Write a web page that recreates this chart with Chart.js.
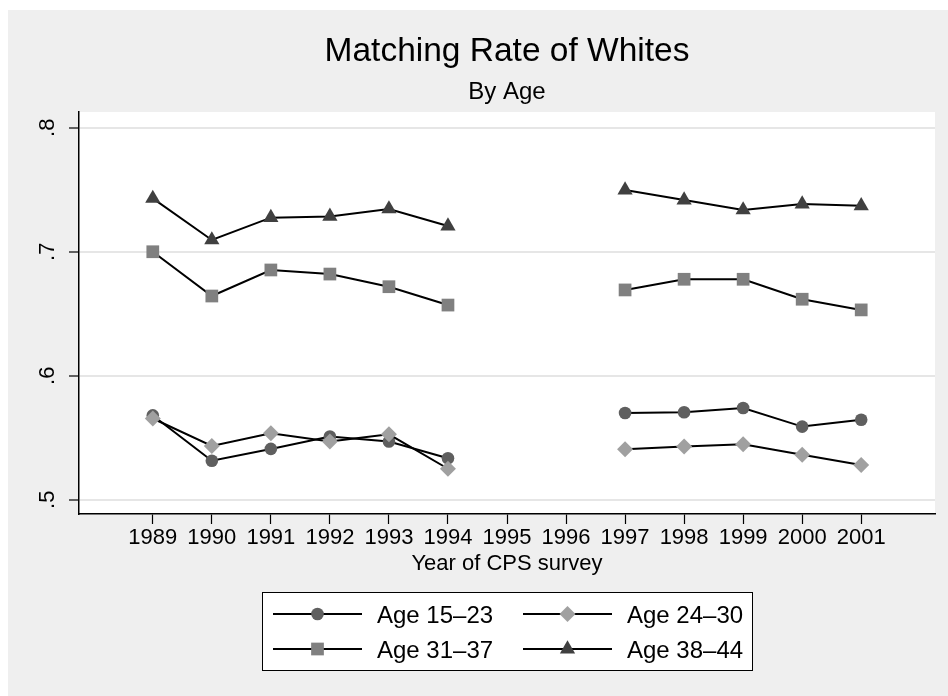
<!DOCTYPE html>
<html>
<head>
<meta charset="utf-8">
<title>Matching Rate of Whites</title>
<script src="https://cdn.jsdelivr.net/npm/chart.js@4/dist/chart.umd.min.js"></script>
<style>
  html, body { margin: 0; padding: 0; background: #fff; }
  #wrap { width: 948px; height: 696px; }
</style>
</head>
<body>
<div id="wrap"><canvas id="chart" width="948" height="696"></canvas></div>
<script>
// ===== Data =====
const years = [1989, 1990, 1991, 1992, 1993, 1994, 1995, 1996, 1997, 1998, 1999, 2000, 2001];
const yTicks = [0.5, 0.6, 0.7, 0.8];
const seriesLabels = ['Age 15–23', 'Age 24–30', 'Age 31–37', 'Age 38–44'];

const age1523 = [0.568, 0.5315, 0.541, 0.551, 0.547, 0.5335, null, null, 0.570, 0.5705, 0.574, 0.559, 0.5645];
const age2430 = [0.5655, 0.5434, 0.5537, 0.547, 0.5528, 0.525, null, null, 0.5408, 0.543, 0.5448, 0.5362, 0.528];
const age3137 = [0.700, 0.6643, 0.6853, 0.682, 0.6718, 0.657, null, null, 0.6692, 0.6778, 0.6778, 0.6617, 0.6531];
const age3844 = [0.743, 0.7095, 0.7275, 0.7285, 0.7345, 0.7207, null, null, 0.7498, 0.7417, 0.7337, 0.7385, 0.7371];

// marker looks per series (Stata mono-ish)
const markerStyles = ['circle', 'rectRot', 'rect', 'triangle'];
const markerColors = ['#5f5f5f', '#a0a0a0', '#808080', '#404040'];
const markerSizes = [6.3, 8, 9, 8.8];

const FONT = '"Liberation Sans", Arial, Helvetica, sans-serif';

function toPoints(values) {
  return years.map((yr, i) => ({ x: yr, y: values[i] }));
}

const allSeries = [age1523, age2430, age3137, age3844];
const datasets = allSeries.map((vals, i) => ({
  label: seriesLabels[i],
  data: toPoints(vals),
  borderColor: '#000',
  borderWidth: 2,
  pointStyle: markerStyles[i],
  pointRadius: markerSizes[i],
  pointBackgroundColor: markerColors[i],
  pointBorderColor: markerColors[i],
  pointBorderWidth: 0,
  spanGaps: false,
  order: allSeries.length - i   // later series on top, like Stata
}));

// ===== Background: gray page, white plot region =====
const bgPlugin = {
  id: 'stataBg',
  beforeDraw(chart) {
    const { ctx, chartArea } = chart;
    ctx.save();
    ctx.fillStyle = '#fff';
    ctx.fillRect(0, 0, chart.width, chart.height);
    ctx.fillStyle = '#efefef';
    ctx.fillRect(8, 10, chart.width - 8, chart.height - 10);
    ctx.fillStyle = '#fff';
    ctx.fillRect(chartArea.left, chartArea.top, chartArea.right - chartArea.left, chartArea.bottom - chartArea.top);
    ctx.restore();
  }
};

// ===== Boxed legend, 2 columns, line + marker sample =====
const legendPlugin = {
  id: 'boxLegend',
  afterDraw(chart) {
    const ctx = chart.ctx;
    const boxL = 262, boxT = 592, boxW = 490, boxH = 78;
    const colX = [273, 523];
    const rowY = [614, 649];
    const lineLen = 89;

    ctx.save();
    ctx.fillStyle = '#fff';
    ctx.fillRect(boxL, boxT, boxW, boxH);
    ctx.strokeStyle = '#000';
    ctx.lineWidth = 1;
    ctx.strokeRect(boxL + 0.5, boxT + 0.5, boxW, boxH);

    chart.data.datasets.forEach((ds, i) => {
      const x0 = colX[i % 2];
      const y0 = rowY[Math.floor(i / 2)];
      ctx.strokeStyle = '#000';
      ctx.lineWidth = 2;
      ctx.beginPath();
      ctx.moveTo(x0, y0);
      ctx.lineTo(x0 + lineLen, y0);
      ctx.stroke();

      ctx.fillStyle = ds.pointBackgroundColor;
      ctx.strokeStyle = ds.pointBorderColor;
      Chart.helpers.drawPoint(ctx, {
        pointStyle: ds.pointStyle,
        radius: ds.pointRadius,
        rotation: 0,
        borderWidth: 0
      }, x0 + lineLen / 2, y0);

      ctx.fillStyle = '#000';
      ctx.font = '24px ' + FONT;
      ctx.textAlign = 'left';
      ctx.textBaseline = 'alphabetic';
      ctx.fillText(ds.label, x0 + lineLen + 15, y0 + 9);
    });
    ctx.restore();
  }
};

const ctx = document.getElementById('chart').getContext('2d');
const chart = new Chart(ctx, {
  type: 'line',
  data: { datasets },
  options: {
    responsive: false,
    animation: false,
    layout: { padding: { left: 0, right: 13, top: 0, bottom: 119 } },
    plugins: {
      legend: { display: false },
      tooltip: { enabled: false },
      title: {
        display: true,
        text: 'Matching Rate of Whites',
        color: '#000',
        fullSize: false,
        font: { family: FONT, size: 33.5, weight: 'normal', lineHeight: 1.2 },
        padding: { top: 32, bottom: 0 }
      },
      subtitle: {
        display: true,
        text: 'By Age',
        color: '#000',
        fullSize: false,
        font: { family: FONT, size: 24, weight: 'normal', lineHeight: 1.2 },
        padding: { top: 6, bottom: 5 }
      }
    },
    scales: {
      x: {
        type: 'linear',
        min: 1987.75,
        max: 2002.25,
        afterBuildTicks: (scale) => { scale.ticks = years.map(v => ({ value: v })); },
        afterFit: (scale) => { scale.height = 63; },
        grid: { display: true, drawOnChartArea: false, tickLength: 10, tickColor: '#000', tickWidth: 1.2 },
        border: { display: true, color: '#000', width: 1.5 },
        ticks: {
          color: '#000',
          autoSkip: false,
          maxRotation: 0,
          padding: 1,
          font: { family: FONT, size: 22 },
          callback: (v) => String(v)
        },
        title: {
          display: true,
          text: 'Year of CPS survey',
          color: '#000',
          font: { family: FONT, size: 22 },
          padding: { top: 0, bottom: 0 }
        }
      },
      y: {
        type: 'linear',
        min: 0.4885,
        max: 0.8127,
        afterBuildTicks: (scale) => { scale.ticks = yTicks.map(v => ({ value: v })); },
        afterFit: (scale) => { scale.width = 79; },
        grid: { display: true, color: '#e6e6e6', lineWidth: 2, tickLength: 10, tickColor: '#000', tickWidth: 1.2 },
        border: { display: true, color: '#000', width: 1.5 },
        ticks: {
          color: '#000',
          minRotation: 90,
          maxRotation: 90,
          crossAlign: 'center',
          padding: 12,
          font: { family: FONT, size: 22 },
          callback: (v) => String(v).replace(/^0/, '')
        }
      }
    }
  },
  plugins: [bgPlugin, legendPlugin]
});
</script>
</body>
</html>
